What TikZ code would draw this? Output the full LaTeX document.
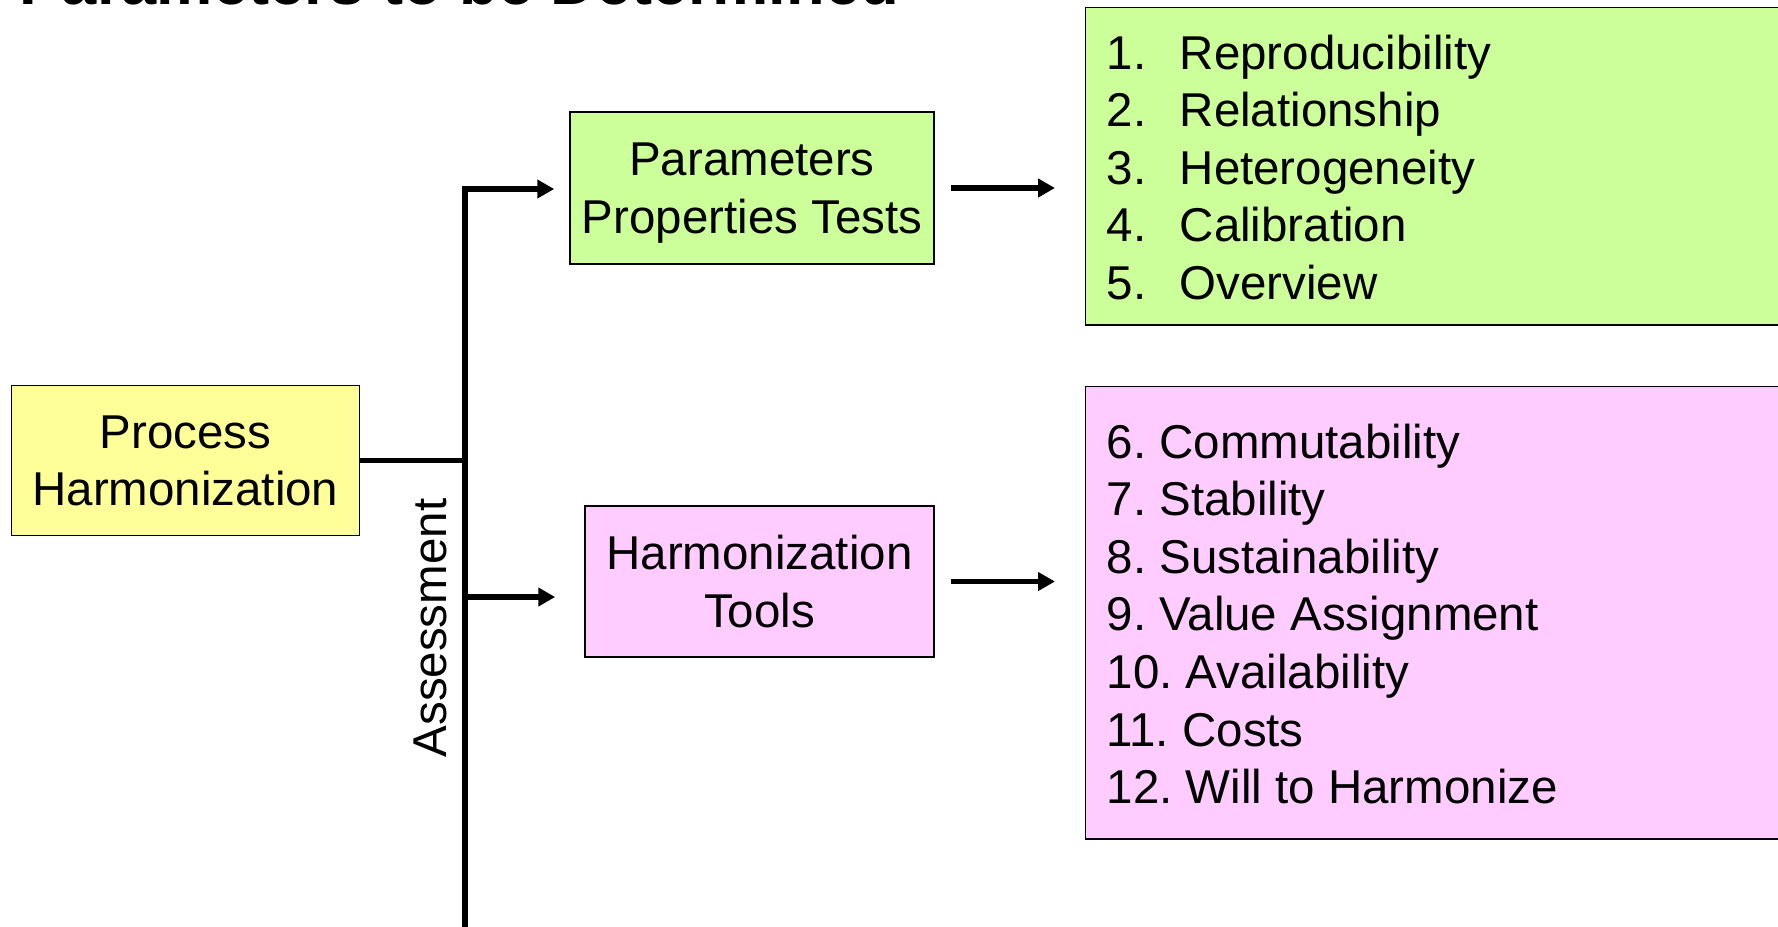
\documentclass[tikz,border=0pt]{standalone}
\usepackage{fontspec}
\setmainfont{Liberation Sans}
\usepackage{tikz}
\usetikzlibrary{arrows.meta}

\definecolor{procyellow}{HTML}{FFFF99}
\definecolor{paramgreen}{HTML}{CCFF99}
\definecolor{toolpink}{HTML}{FFCCFF}

\begin{document}
\begin{tikzpicture}[x=0.01cm,y=-0.01cm,
font=\fontsize{13.5}{16.4}\selectfont,
box/.style={draw,line width=0.4pt,align=center,inner sep=0pt,text depth=0pt},
item/.style={anchor=base west,inner sep=0pt},
link/.style={line width=1.6pt},
arr/.style={line width=1.6pt,-{Triangle[length=4.8pt,width=5.1pt]}}]

\useasboundingbox (0,0) rectangle (1778,926);
\clip (0,0) rectangle (1778,926);

% Title (cut off by the top edge)
\node[anchor=base west,inner sep=0pt,font=\fontsize{18}{21.6}\selectfont\bfseries] (title) at (19,4) {Parameters to be Determined};

% Nodes
\node[box,fill=procyellow,minimum width=3.48cm,minimum height=1.50cm] (proc) at (185.4,460.5) {Process\\Harmonization};
\node[box,fill=paramgreen,minimum width=3.64cm,minimum height=1.52cm] (param) at (752,188) {Parameters\\Properties Tests};
\node[box,fill=toolpink,minimum width=3.49cm,minimum height=1.51cm] (tools) at (759.5,581.5) {Harmonization\\Tools};

% List boxes (right side runs off the page)
\node[box,fill=paramgreen,minimum width=7.05cm,minimum height=3.17cm,anchor=north west] (plist) at (1085,7) {};
\node[box,fill=toolpink,minimum width=7.05cm,minimum height=4.52cm,anchor=north west] (tlist) at (1085,386) {};

% List entries
\foreach \t [count=\i] in {Reproducibility,Relationship,Heterogeneity,Calibration,Overview}
	\node[item] (p\i) at (1106,{69+57.6*(\i-1)}) {\makebox[0.73cm][l]{\i.}\t};
\foreach \t [count=\i from 6] in {Commutability,Stability,Sustainability,Value Assignment,Availability,Costs,Will to Harmonize}
	\node[item] (t\i) at (1106,{458+57.6*(\i-6)}) {\i.\ \t};

% Connectors
\coordinate (fork) at (465,460.5);
\coordinate (top) at (465,189);
\coordinate (low) at (465,597);
\coordinate (bot) at (465,940);
\draw[link] (proc.east) -- (fork);
\draw[arr,shorten >=0.15cm] (bot) -- (top) -- (top -| param.west);
\draw[arr,shorten >=0.29cm] (low) -- (low -| tools.west);
\draw[arr,shorten <=0.16cm,shorten >=0.30cm] (param.east) -- (param.east -| plist.west);
\draw[arr,shorten <=0.16cm,shorten >=0.30cm] (tools.east) -- (tools.east -| tlist.west);

% Label on the trunk
\node[rotate=90,inner sep=0pt] (assess) at (430,628) {Assessment};

\end{tikzpicture}
\end{document}
